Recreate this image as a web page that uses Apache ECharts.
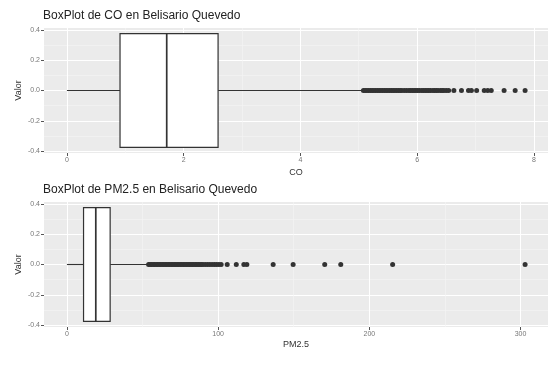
<!DOCTYPE html>
<html><head><meta charset="utf-8">
<script src="https://cdn.jsdelivr.net/npm/echarts@6/dist/echarts.min.js"></script>
<style>html,body{margin:0;padding:0;background:#fff}#c{width:554px;height:367px}</style>
</head><body><div id="c"></div>
<script>
// ---- data ----
const titles = ['BoxPlot de CO en Belisario Quevedo', 'BoxPlot de PM2.5 en Belisario Quevedo'];
const xNames = ['CO', 'PM2.5'];
const yName = 'Valor';
// [min whisker, Q1, median, Q3, max whisker]
const coStats = [0, 0.91, 1.71, 2.59, 5.08];
const coOutliers = [5.08, 5.11, 5.14, 5.17, 5.20, 5.23, 5.26, 5.29, 5.32, 5.35, 5.38, 5.41, 5.44, 5.47, 5.50,
  5.53, 5.56, 5.59, 5.62, 5.65, 5.68, 5.71, 5.74, 5.78, 5.82, 5.86, 5.89, 5.92, 5.95, 5.98, 6.01, 6.04,
  6.08, 6.11, 6.14, 6.17, 6.20, 6.23, 6.27, 6.30, 6.33, 6.36, 6.40, 6.43, 6.46, 6.50, 6.54,
  6.63, 6.76, 6.88, 6.93, 7.02, 7.15, 7.21, 7.27, 7.49, 7.68, 7.85];
const pmStats = [0, 11.0, 19.1, 28.6, 53.5];
const pmOutliers = [54, 55, 56, 57, 58, 59, 60, 61, 62, 63, 64, 65, 66, 67, 68, 69, 70, 71, 72, 73, 74, 75,
  76, 77, 78, 79, 80, 81, 82, 83, 84, 85, 86, 87, 88, 89, 90, 91.5, 93, 94.5, 96, 97.5, 99, 100.5, 102,
  106, 112, 117, 119, 136.4, 149.6, 170.5, 181.1, 215.4, 303];
const coTicks = [0, 2, 4, 6, 8];
const pmTicks = [0, 100, 200, 300];
const yTicks = [-0.4, -0.2, 0.0, 0.2, 0.4];
const boxHalf = 0.375;

// ---- helpers ----
function expand(lo, hi) { const d = (hi - lo) * 0.05; return [lo - d, hi + d]; }
const coExt = expand(Math.min(coStats[0], ...coOutliers), Math.max(coStats[4], ...coOutliers));
const pmExt = expand(Math.min(pmStats[0], ...pmOutliers), Math.max(pmStats[4], ...pmOutliers));
const yExt = expand(-boxHalf, boxHalf);

const FONT = 'Liberation Sans, Arial, sans-serif';
const panels = [
  { top: 28, stats: coStats, outl: coOutliers, ext: coExt, ticks: coTicks, split: 5, gapX: 15, tTop: 10 },
  { top: 202, stats: pmStats, outl: pmOutliers, ext: pmExt, ticks: pmTicks, split: 3, gapX: 13, tTop: 184 }
];

const grid = [], xAxis = [], yAxis = [], series = [], title = [];
panels.forEach((p, i) => {
  title.push({ text: titles[i], left: 43, top: p.tTop, padding: 0,
    textStyle: { fontFamily: FONT, fontSize: 12, fontWeight: 'normal', color: '#222' } });
  grid.push({ left: 44, right: 6, top: p.top, height: 125, show: true, backgroundColor: '#EBEBEB', borderWidth: 0 });
  xAxis.push({ type: 'value', gridIndex: i, min: p.ext[0], max: p.ext[1], splitNumber: p.split,
    name: xNames[i], nameLocation: 'middle', nameGap: p.gapX,
    nameTextStyle: { fontFamily: FONT, fontSize: 9, color: '#333' },
    axisLine: { show: false, onZero: false },
    axisTick: { show: true, length: 3, lineStyle: { color: '#555', width: 1 }, customValues: p.ticks },
    axisLabel: { customValues: p.ticks, fontFamily: FONT, fontSize: 7, color: '#777', margin: 4,
      formatter: v => String(v) },
    splitLine: { show: true, lineStyle: { color: '#fff', width: 1 } },
    minorTick: { show: false, splitNumber: 2 },
    minorSplitLine: { show: true, lineStyle: { color: '#F5F5F5', width: 0.6 } } });
  yAxis.push({ type: 'value', gridIndex: i, min: yExt[0], max: yExt[1], splitNumber: 5,
    name: yName, nameLocation: 'middle', nameGap: 21, nameRotate: 90, nameMoveOverlap: false,
    nameTextStyle: { fontFamily: FONT, fontSize: 9, color: '#333' },
    axisLine: { show: false, onZero: false },
    axisTick: { show: true, length: 3, lineStyle: { color: '#555', width: 1 }, customValues: yTicks },
    axisLabel: { customValues: yTicks, fontFamily: FONT, fontSize: 7, color: '#777', margin: 4,
      formatter: v => v.toFixed(1) },
    splitLine: { show: true, lineStyle: { color: '#fff', width: 1 } },
    minorTick: { show: false, splitNumber: 2 },
    minorSplitLine: { show: true, lineStyle: { color: '#F5F5F5', width: 0.6 } } });
  series.push({
    type: 'custom', xAxisIndex: i, yAxisIndex: i, z: 3,
    data: [p.stats],
    renderItem: (params, api) => {
      const v = [0, 1, 2, 3, 4].map(k => api.value(k));
      const c = x => api.coord([x, 0]);
      const yTop = api.coord([v[1], boxHalf])[1];
      const yBot = api.coord([v[1], -boxHalf])[1];
      const y0 = c(v[0])[1];
      const st = { stroke: '#333', lineWidth: 1.1, fill: null };
      return { type: 'group', children: [
        { type: 'line', shape: { x1: c(v[0])[0], y1: y0, x2: c(v[1])[0], y2: y0 }, style: st },
        { type: 'line', shape: { x1: c(v[3])[0], y1: y0, x2: c(v[4])[0], y2: y0 }, style: st },
        { type: 'rect', shape: { x: c(v[1])[0], y: yTop, width: c(v[3])[0] - c(v[1])[0], height: yBot - yTop },
          style: { stroke: '#333', lineWidth: 1.2, fill: '#fff' } },
        { type: 'line', shape: { x1: c(v[2])[0], y1: yTop, x2: c(v[2])[0], y2: yBot },
          style: { stroke: '#333', lineWidth: 1.7 } }
      ] };
    }
  });
  series.push({ type: 'scatter', xAxisIndex: i, yAxisIndex: i, z: 4, symbolSize: 5,
    itemStyle: { color: '#333', opacity: 1 }, silent: true,
    data: p.outl.map(x => [x, 0]) });
});

const chart = echarts.init(document.getElementById('c'), null, { renderer: 'canvas' });
chart.setOption({ animation: false, backgroundColor: '#fff', title, grid, xAxis, yAxis, series });
</script></body></html>
